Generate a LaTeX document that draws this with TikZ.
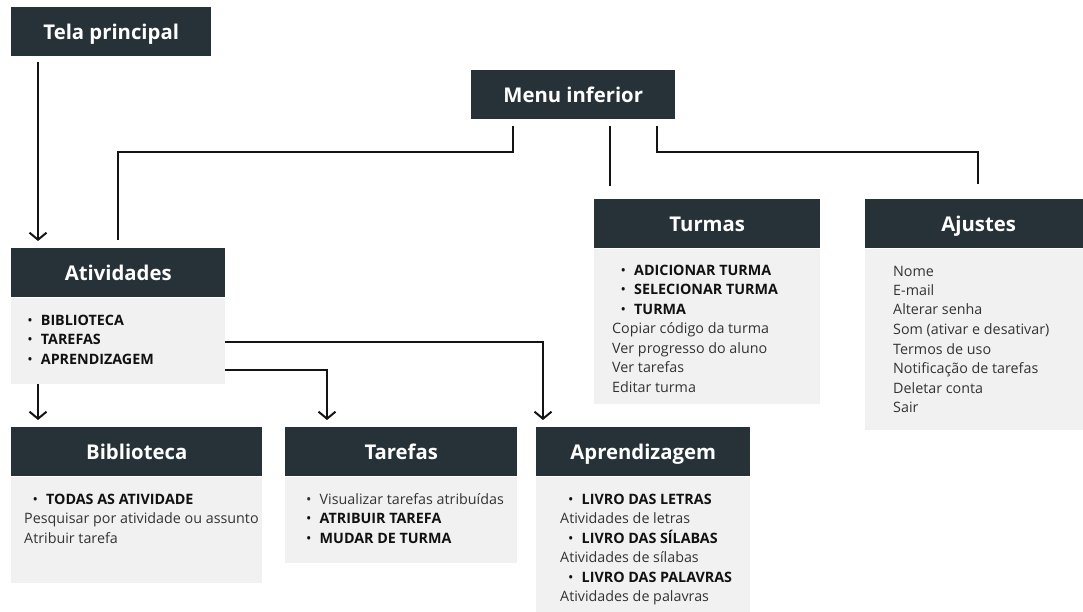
\documentclass[tikz,border=0pt]{standalone}
\usepackage{fontspec}
\setmainfont{Open Sans}
\usetikzlibrary{arrows.meta}
\definecolor{hd}{HTML}{263238}
\definecolor{bd}{HTML}{F1F1F1}
\definecolor{txt}{HTML}{333333}
\definecolor{txtb}{HTML}{111111}
% bold bullet item; the optional indent shifts the bullet right
\newcommand\itm[2][0pt]{\hspace*{#1}{\color{txtb}\makebox[13.5pt][l]{\textbullet}\textbf{#2}}}
\newcommand\itp[1]{\makebox[13.5pt][l]{\textbullet}#1}
\begin{document}
\begin{tikzpicture}[x=1pt,y=-1pt,
  hdbox/.style={fill=hd, text=white, font=\bfseries\fontsize{20.3}{24}\selectfont,
    anchor=north west, inner sep=0pt, minimum height=49pt, text height=17pt, text depth=0.6pt},
  bdbox/.style={fill=bd, anchor=north west, inner sep=0pt},
  lst/.style={anchor=base west, inner sep=0pt, font=\fontsize{14.3}{19.5}\selectfont, text=txt},
  link/.style={line width=2pt, draw=black!92},
  arr/.style={link, -{Straight Barb[length=7pt,width=17pt]}}]
\clip (0,0) rectangle (1083,612);
\fill[white] (0,0) rectangle (1083,612);

% top level
\node[hdbox, minimum width=200pt] (tela) at (11,7) {Tela principal};
\node[hdbox, minimum width=204pt] (menu) at (471,70) {Menu inferior};

% Atividades
\node[hdbox, minimum width=214pt] (atvh) at (11,248) {Atividades};
\node[bdbox, minimum width=214pt, minimum height=86pt] (atvb) at (atvh.south west) {};
\node[lst] (atvl) at (27.2,325.3) {\begin{tabular}[t]{@{}l@{}}
  \itm{BIBLIOTECA}\\ \itm{TAREFAS}\\ \itm{APRENDIZAGEM}\end{tabular}};

% Turmas
\node[hdbox, minimum width=226pt] (turh) at (594,199) {Turmas};
\node[bdbox, minimum width=226pt, minimum height=155pt] (turb) at (turh.south west) {};
\node[lst] (turl) at (612,275.3) {\begin{tabular}[t]{@{}l@{}}
  \itm[8.5pt]{ADICIONAR TURMA}\\ \itm[8.5pt]{SELECIONAR TURMA}\\ \itm[8.5pt]{TURMA}\\
  Copiar código da turma\\ Ver progresso do aluno\\ Ver tarefas\\ Editar turma\end{tabular}};

% Ajustes
\node[hdbox, minimum width=227pt] (ajh) at (865,199) {Ajustes};
\node[bdbox, minimum width=227pt, minimum height=181pt] (ajb) at (ajh.south west) {};
\node[lst] (ajl) at (893,276) {\begin{tabular}[t]{@{}l@{}}
  Nome\\ E-mail\\ Alterar senha\\ Som (ativar e desativar)\\ Termos de uso\\
  Notificação de tarefas\\ Deletar conta\\ Sair\end{tabular}};

% Biblioteca
\node[hdbox, minimum width=251pt] (bibh) at (11,427) {Biblioteca};
\node[bdbox, minimum width=251pt, minimum height=106pt] (bibb) at (bibh.south west) {};
\node[lst] (bibl) at (24,504) {\begin{tabular}[t]{@{}l@{}}
  \itm[8.5pt]{TODAS AS ATIVIDADE}\\ Pesquisar por atividade ou assunto\\ Atribuir tarefa\end{tabular}};

% Tarefas
\node[hdbox, minimum width=232pt] (tarh) at (285,427) {Tarefas};
\node[bdbox, minimum width=232pt, minimum height=86pt] (tarb) at (tarh.south west) {};
\node[lst] (tarl) at (306,504) {\begin{tabular}[t]{@{}l@{}}
  \itp{Visualizar tarefas atribuídas}\\ \itm{ATRIBUIR TAREFA}\\ \itm{MUDAR DE TURMA}\end{tabular}};

% Aprendizagem
\node[hdbox, minimum width=214pt] (aprh) at (536,427) {Aprendizagem};
\node[bdbox, minimum width=214pt, minimum height=145pt] (aprb) at (aprh.south west) {};
\node[lst] (aprl) at (560,504) {\begin{tabular}[t]{@{}l@{}}
  \itm[8pt]{LIVRO DAS LETRAS}\\ Atividades de letras\\
  \itm[8pt]{LIVRO DAS SÍLABAS}\\ Atividades de sílabas\\
  \itm[8pt]{LIVRO DAS PALAVRAS}\\ Atividades de palavras\end{tabular}};

% connectors
\draw[arr] ([xshift=27pt,yshift=-6pt]tela.south west) -- ([xshift=27pt,yshift=7pt]atvh.north west);
\draw[link] ([xshift=42pt,yshift=-7pt]menu.south west) -- ++(0,26)
  -| ([xshift=107pt,yshift=8pt]atvh.north west);
\draw[link] ([xshift=139pt,yshift=-7pt]menu.south west) -- ([xshift=16pt,yshift=13pt]turh.north west);
\draw[link] ([xshift=186pt,yshift=-7pt]menu.south west) -- ++(0,26)
  -| ([xshift=113pt,yshift=15pt]ajh.north west);
\draw[arr] ([yshift=-45pt]atvb.north east) -| ([xshift=7pt,yshift=7pt]aprh.north west);
\draw[arr] ([yshift=-72.5pt]atvb.north east) -| ([xshift=42pt,yshift=7pt]tarh.north west);
\draw[arr] ([xshift=27pt]atvb.south west) -- ([xshift=27pt,yshift=7pt]bibh.north west);
\end{tikzpicture}
\end{document}
